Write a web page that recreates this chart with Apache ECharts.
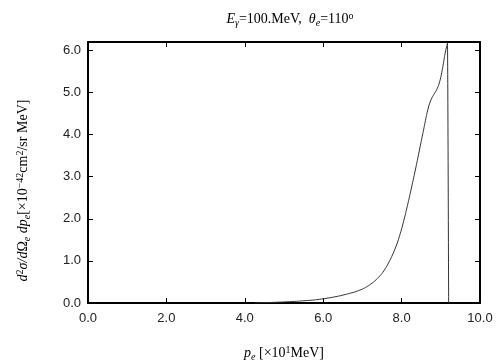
<!DOCTYPE html>
<html>
<head>
<meta charset="utf-8">
<script src="https://cdn.jsdelivr.net/npm/echarts@6/dist/echarts.min.js"></script>
<style>
  html, body { margin: 0; padding: 0; background: #fff; }
  #chart { width: 504px; height: 360px; }
</style>
</head>
<body>
<div id="chart"></div>
<script>
// electron momentum p_e [x10^1 MeV]
const momentum = [4.25, 4.6, 5.0, 5.4, 5.8, 6.0, 6.2, 6.4, 6.6, 6.8, 7.0, 7.1, 7.2, 7.3,
  7.4, 7.5, 7.6, 7.7, 7.8, 7.9, 8.0, 8.1, 8.2, 8.3, 8.4, 8.5, 8.58, 8.64, 8.7, 8.76,
  8.82, 8.88, 8.94, 9.0, 9.05, 9.1, 9.15, 9.17, 9.2];
// cross section d2sigma/dOmega dp [x10^-42 cm2/sr MeV]
const crossSection = [0.0, 0.01, 0.025, 0.045, 0.075, 0.1, 0.13, 0.165, 0.21, 0.26, 0.33, 0.38, 0.44, 0.51,
  0.6, 0.7, 0.84, 1.01, 1.21, 1.45, 1.76, 2.12, 2.52, 2.94, 3.38, 3.84, 4.2, 4.48, 4.7, 4.85,
  4.95, 5.04, 5.16, 5.36, 5.6, 5.88, 6.1, 6.18, 0.0];

const chart = echarts.init(document.getElementById("chart"), null, { renderer: "canvas" });

const serif = "Liberation Serif";
const sans = "Liberation Sans";

function richSet(size) {
  const small = Math.round(size * 0.7);
  const base = { fontFamily: serif, fontWeight: "normal", color: "#000", fontSize: size };
  return {
    i: Object.assign({}, base, { fontStyle: "italic" }),
    n: Object.assign({}, base),
    sub: Object.assign({}, base, { fontStyle: "italic", fontSize: small, verticalAlign: "bottom", padding: [7, 0, 0, 0] }),
    sup: Object.assign({}, base, { fontSize: small, verticalAlign: "top", padding: [0, 0, 7, 0] }),
  };
}

const frame = { show: true, onZero: false, lineStyle: { color: "#000", width: 2 } };
const tick = { show: true, inside: true, length: 5, lineStyle: { color: "#000", width: 1 } };
const fmt = (v) => v.toFixed(1);

chart.setOption({
  animation: false,
  backgroundColor: "#fff",
  title: {
    text: "{i|E}{sub|γ}{n|=100.MeV,  }{i|θ}{sub|e}{n|=110}{sup|o}",
    left: 285,
    top: 6,
    textAlign: "center",
    textStyle: { fontWeight: "normal", rich: richSet(14) },
  },
  grid: { left: 88, right: 24, top: 42, bottom: 57, outerBoundsMode: "none", containLabel: false },
  xAxis: [
    {
      type: "value",
      min: 0,
      max: 10,
      interval: 2,
      position: "bottom",
      axisLine: frame,
      axisTick: tick,
      splitLine: { show: false },
      axisLabel: { formatter: fmt, fontFamily: sans, fontSize: 13, color: "#222", margin: 9 },
      name: "{i|p}{sub|e}{n| [×10}{sup|1}{n|MeV]}",
      nameLocation: "middle",
      nameGap: 42,
      nameTextStyle: { rich: richSet(14) },
    },
    {
      type: "value",
      min: 0,
      max: 10,
      interval: 2,
      position: "top",
      axisLine: frame,
      axisTick: tick,
      axisLabel: { show: false },
      splitLine: { show: false },
    },
  ],
  yAxis: [
    {
      type: "value",
      min: 0,
      max: 6.2,
      interval: 1,
      position: "left",
      axisLine: frame,
      axisTick: tick,
      splitLine: { show: false },
      axisLabel: {
        formatter: fmt,
        showMaxLabel: false,
        fontFamily: sans,
        fontSize: 13,
        color: "#222",
        margin: 7,
      },
      name: "{i|d}{sup|2}{i|σ/d}{n|Ω}{sub|e}{i| dp}{sub|e}{n|[×10}{sup|−42}{n|cm}{sup|2}{n|/sr MeV]}",
      nameLocation: "middle",
      nameRotate: 90,
      nameGap: 56,
      nameTextStyle: { rich: richSet(14), padding: [0, 36, 0, 0] },
    },
    {
      type: "value",
      min: 0,
      max: 6.2,
      interval: 1,
      position: "right",
      axisLine: frame,
      axisTick: tick,
      axisLabel: { show: false },
      splitLine: { show: false },
    },
  ],
  series: [
    {
      type: "line",
      xAxisIndex: 0,
      yAxisIndex: 0,
      data: momentum.map((x, i) => [x, crossSection[i]]),
      smooth: 0.15,
      symbol: "none",
      lineStyle: { color: "#333", width: 1 },
    },
  ],
});
</script>
</body>
</html>
